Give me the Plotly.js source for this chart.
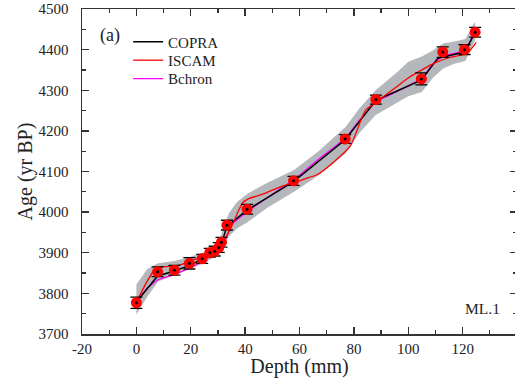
<!DOCTYPE html>
<html>
<head>
<meta charset="utf-8">
<script src="https://cdn.plot.ly/plotly-3.0.1.min.js"></script>
<style>
html,body{margin:0;padding:0;overflow:hidden;background:#fff;}
#chart{width:520px;height:378px;}
</style>
</head>
<body>
<div id="chart"></div>
<script>
// Dated samples (depth in mm, age in yr BP, 1-sigma error)
const sampleDepth = [0, 7.8, 14, 19.5, 24.2, 27, 28.8, 30.3, 31.3, 33.3, 40.7, 57.8, 76.8, 88.1, 104.8, 112.7, 120.7, 124.6];
const sampleAge   = [3777, 3853, 3857, 3874, 3885, 3900, 3904, 3913, 3926, 3968, 4007, 4077, 4180, 4277, 4328, 4394, 4400, 4443];
const sampleErr   = [14, 12, 12, 14, 11, 11, 12, 12, 12, 12, 12, 11, 11, 11, 15, 13, 12, 12];

// COPRA model (black)
const copraDepth = [0, 7.8, 14, 19.5, 24.2, 27, 28.8, 30.3, 31.3, 33.3, 40.7, 57.8, 76.8, 88.1, 104.8, 110.9, 120.7, 124.6];
const copraAge   = [3779, 3843, 3855, 3869, 3884, 3898, 3903, 3910, 3922, 3965, 4005, 4075, 4178, 4275, 4325, 4379, 4394, 4442];

// ISCAM model (red)
const iscamDepth = [0, 2, 4, 6, 7.5, 11, 14, 17, 20, 24, 27, 29, 30.5, 31.5, 33, 35, 37, 39, 41, 46.8, 54.2, 58, 62, 66.4, 72, 78.7, 84.2, 88, 95, 100, 105, 110, 115, 121.6, 125];
const iscamAge   = [3778, 3805, 3830, 3852, 3863, 3866, 3867, 3872, 3880, 3890, 3903, 3910, 3919, 3927, 3940, 3965, 3995, 4022, 4032, 4045, 4065, 4072, 4082, 4092, 4120, 4163, 4250, 4270, 4305, 4330, 4350, 4368, 4380, 4391, 4418];

// Bchron model (magenta)
const bchronDepth = [0, 4, 8, 14, 20, 24, 27, 29, 31, 33, 35, 41, 50, 58, 67, 77, 82, 88, 95, 100, 105, 109, 113, 117, 121, 124.6];
const bchronAge   = [3780, 3813, 3834, 3846, 3863, 3878, 3893, 3900, 3910, 3935, 3970, 4003, 4044, 4080, 4130, 4182, 4226, 4272, 4294, 4310, 4328, 4365, 4386, 4391, 4398, 4445];

// Uncertainty envelope (grey)
const bandDepth = [0, 4, 8, 14, 20, 25, 30, 34, 37, 41, 48, 58, 67, 77, 82, 88, 96, 100, 105, 109, 113, 117, 121, 124.6];
const bandUpper = [3822, 3860, 3874, 3880, 3890, 3902, 3922, 3997, 4025, 4046, 4072, 4104, 4150, 4210, 4255, 4300, 4345, 4370, 4383, 4398, 4416, 4420, 4426, 4469];
const bandLower = [3748, 3792, 3829, 3845, 3862, 3875, 3895, 3940, 3960, 3976, 4010, 4050, 4090, 4145, 4195, 4239, 4270, 4285, 4296, 4330, 4354, 4365, 4372, 4424];

// Axis tick labels
const xTickVals = [-20, 0, 20, 40, 60, 80, 100, 120, 140];
const xTickText = ['-20', '0', '20', '40', '60', '80', '100', '120', '140'];

const serif = 'Liberation Serif';

const traces = [
  {x: bandDepth, y: bandLower, mode: 'lines', line: {width: 0, color: 'rgba(0,0,0,0)'}, showlegend: false, hoverinfo: 'skip'},
  {x: bandDepth, y: bandUpper, mode: 'lines', line: {width: 0, color: 'rgba(0,0,0,0)'}, fill: 'tonexty', fillcolor: '#b4b7bb', showlegend: false, hoverinfo: 'skip'},
  {x: bchronDepth, y: bchronAge, mode: 'lines', name: 'Bchron', line: {color: '#ff00ff', width: 1.3}, legend: 'legend3'},
  {x: copraDepth, y: copraAge, mode: 'lines', name: 'COPRA', line: {color: '#000000', width: 1.5}, legend: 'legend'},
  {x: iscamDepth, y: iscamAge, mode: 'lines', name: 'ISCAM', line: {color: '#ff0000', width: 1.3, shape: 'spline', smoothing: 0.6}, legend: 'legend2'},
  {x: sampleDepth, y: sampleAge, mode: 'markers', showlegend: false,
   marker: {color: '#ff0000', size: 11, line: {width: 0}},
   error_y: {type: 'data', array: sampleErr, visible: true, color: '#000', thickness: 1.3, width: 6}},
  {x: sampleDepth, y: sampleAge, mode: 'markers', showlegend: false,
   marker: {color: '#000', size: 3}}
];

const axisCommon = {
  showgrid: false, zeroline: false, showline: true, linecolor: '#333', linewidth: 1.5,
  mirror: 'ticks', ticks: 'inside', ticklen: 7, tickwidth: 1.3, tickcolor: '#333',
  tickfont: {family: serif, size: 15, color: '#222'}
};

function legendAt(y) {
  return {x: 0.106, y: y, xanchor: 'left', yanchor: 'top', bgcolor: 'rgba(0,0,0,0)', traceorder: 'normal',
          font: {family: serif, size: 15, color: '#222'}, tracegroupgap: 0};
}

const layout = {
  width: 520, height: 378,
  margin: {l: 82, r: 3, t: 9, b: 44},
  paper_bgcolor: '#fff', plot_bgcolor: '#fff',
  font: {family: serif, color: '#222'},
  showlegend: true,
  legend: legendAt(0.949),
  legend2: legendAt(0.8925),
  legend3: legendAt(0.836),
  xaxis: Object.assign({}, axisCommon, {
    range: [-20, 140], tickvals: xTickVals, ticktext: xTickText,
    minor: {dtick: 10, ticks: 'inside', ticklen: 4, tickcolor: '#333', tickwidth: 1.2},
    title: {text: 'Depth (mm)', font: {family: serif, size: 20, color: '#222'}, standoff: 0}
  }),
  yaxis: Object.assign({}, axisCommon, {
    range: [3700, 4500], dtick: 100, tick0: 3700, ticklabelstandoff: 9,
    minor: {dtick: 50, ticks: 'inside', ticklen: 4, tickcolor: '#333', tickwidth: 1.2},
    title: {text: 'Age (yr BP)', font: {family: serif, size: 20, color: '#222'}, standoff: 0}
  }),
  annotations: [
    {text: '(a)', xref: 'paper', yref: 'paper', x: 0.036, y: 0.918, xanchor: 'left', yanchor: 'middle', showarrow: false,
     font: {family: serif, size: 18, color: '#222'}},
    {text: 'ML.1', xref: 'paper', yref: 'paper', x: 0.921, y: 0.08, xanchor: 'center', yanchor: 'middle', showarrow: false,
     font: {family: serif, size: 15.5, color: '#222'}}
  ]
};

Plotly.newPlot('chart', traces, layout, {displayModeBar: false, staticPlot: true});
</script>
</body>
</html>
